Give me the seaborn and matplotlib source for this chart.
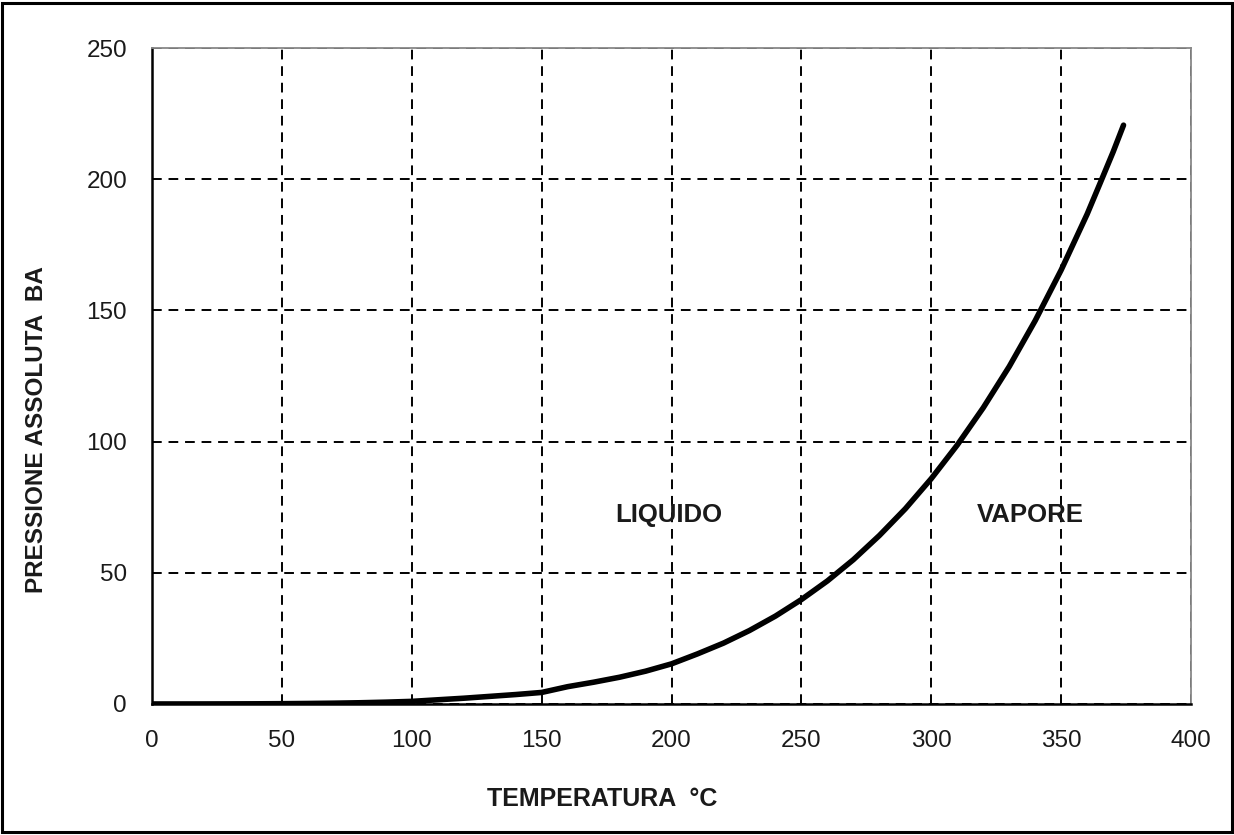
import numpy as np
import pandas as pd
import matplotlib
matplotlib.use("Agg")
import matplotlib.pyplot as plt
import seaborn as sns
from matplotlib.patches import Rectangle

# saturation curve of water
temperatura = [0, 10, 20, 30, 40, 50, 60, 70, 80, 90, 100, 110, 120, 130, 140, 150,
               160, 170, 180, 190, 200, 210, 220, 230, 240, 250, 260, 270, 280, 290,
               300, 310, 320, 330, 340, 350, 360, 365, 370, 374]
pressione = [0.01, 0.01, 0.02, 0.04, 0.07, 0.12, 0.2, 0.31, 0.47, 0.7, 1.0, 1.6, 2.2,
             2.9, 3.6, 4.4, 6.6, 8.3, 10.2, 12.5, 15.3, 19.1, 23.2, 28.0, 33.5, 39.8,
             46.9, 55.0, 64.2, 74.4, 85.9, 98.7, 112.9, 128.6, 146.1, 165.4, 186.7,
             198.5, 210.4, 220.6]
x_ticks = [0, 50, 100, 150, 200, 250, 300, 350, 400]
y_ticks = [0, 50, 100, 150, 200, 250]
regioni = ["LIQUIDO", "VAPORE"]
regioni_x = [199, 338]
regioni_y = [72, 72]

sns.set_style("white")
plt.rcParams['font.family'] = ['Liberation Sans', 'DejaVu Sans']

df = pd.DataFrame({'T': temperatura, 'P': pressione})

fig = plt.figure(figsize=(12.34, 8.35), dpi=100)
ax = fig.add_axes([0.1232, 0.1569, 0.8420, 0.7856])

sns.lineplot(data=df, x='T', y='P', color='black', lw=4, ax=ax)

ax.set_xlim(0, 400)
ax.set_ylim(0, 250)
ax.set_xticks(x_ticks)
ax.set_yticks(y_ticks)
ax.tick_params(axis='both', direction='out', length=8, width=1.4, color='black',
               labelsize=17.5, labelcolor='#1a1a1a')
ax.tick_params(axis='x', pad=11)
ax.tick_params(axis='y', pad=10)
ax.grid(True, color='black', linestyle=(0, (5, 3.5)), linewidth=1.4)
ax.set_axisbelow(True)

for s in ['left', 'bottom']:
    ax.spines[s].set_color('black')
    ax.spines[s].set_linewidth(1.8)
for s in ['top', 'right']:
    ax.spines[s].set_color('#888888')
    ax.spines[s].set_linewidth(1.3)

ax.set_xlabel('TEMPERATURA  °C', fontsize=18, fontweight='bold', color='#1a1a1a')
ax.set_ylabel('PRESSIONE ASSOLUTA  BA', fontsize=17.5, fontweight='bold', color='#1a1a1a')
ax.xaxis.set_label_coords(0.433, -0.1265)
ax.yaxis.set_label_coords(-0.100, 0.418)

for lab, tx, ty in zip(regioni, regioni_x, regioni_y):
    ax.text(tx, ty, lab, fontsize=18.5, fontweight='bold', ha='center', va='center',
            color='#1a1a1a')

fig.patches.append(Rectangle((0.002, 0.003), 0.996, 0.994, transform=fig.transFigure,
                             fill=False, edgecolor='black', linewidth=2.2))

fig.savefig('out.png', dpi=100)
